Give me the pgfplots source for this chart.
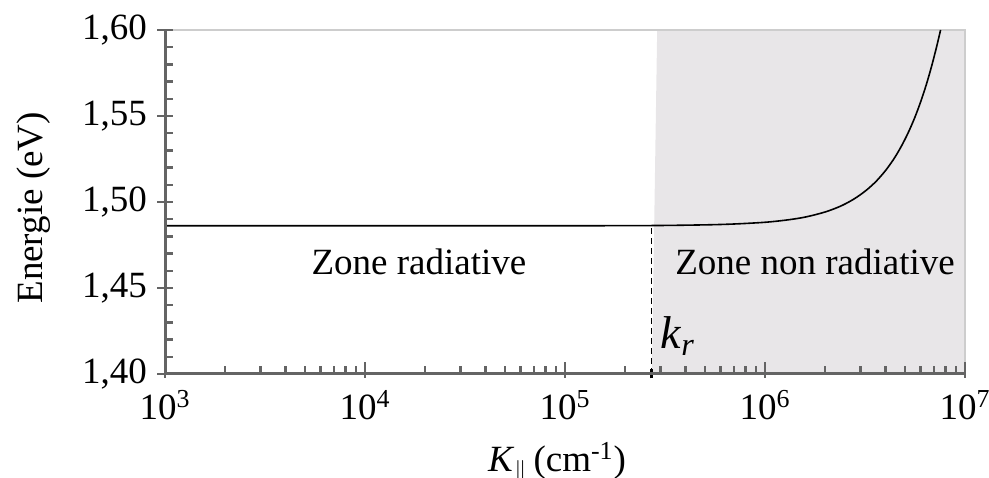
\documentclass[border=0pt]{standalone}
\usepackage{pgfplots}
\pgfplotsset{compat=1.18}
\usepackage{fontspec}
\setmainfont{Liberation Serif}
\definecolor{axgray}{RGB}{100,100,100}
\definecolor{lightax}{RGB}{205,205,205}
\definecolor{zonefill}{RGB}{232,230,232}
\newcommand{\bigf}{\fontsize{18.5}{21}\selectfont}
\begin{document}
\begin{tikzpicture}
\begin{axis}[
  scale only axis, width=400pt, height=172pt,
  xmode=log, xmin=1e3, xmax=1e7, ymin=1.40, ymax=1.60,
  axis lines*=left, axis on top, clip=false,
  axis line style={axgray, line width=1.5pt},
  tick align=inside, major tick length=8pt, minor tick length=4pt,
  tick style={axgray, line width=1.2pt},
  major y tick style={xshift=-4pt},
  major x tick style={yshift=-2pt},
  xtick={1e3,1e4,1e5,1e6,1e7},
  xticklabels={10\textsuperscript{3},10\textsuperscript{4},10\textsuperscript{5},10\textsuperscript{6},10\textsuperscript{7}},
  ytick={1.40,1.45,1.50,1.55,1.60},
  minor y tick num=4,
  /pgf/number format/use comma, /pgf/number format/fixed, /pgf/number format/fixed zerofill, /pgf/number format/precision=2, /pgf/number format/assume math mode=true,
  yticklabel style={xshift=-5.5pt},
  xticklabel style={yshift=-4.5pt},
  ticklabel style={font=\bigf},
  every axis x label/.style={at={([yshift=-49pt]axis description cs:0.49,0)}, anchor=base, font=\bigf},
  every axis y label/.style={at={([xshift=-61.5pt]axis description cs:0,0.483)}, rotate=90, anchor=base, font=\bigf},
  xlabel={\textit{K}$_{\parallel}$\,(cm\textsuperscript{-1})},
  ylabel={Energie (eV)},
]
\coordinate (sw) at (rel axis cs:0,0);
\coordinate (ne) at (rel axis cs:1,1);
\addplot[fill=zonefill, draw=none] coordinates {(2.72e5,1.40) (2.89e5,1.60) (1e7,1.60) (1e7,1.40)} -- cycle;
\draw[lightax, line width=0.8pt] (rel axis cs:0,1) -- (rel axis cs:1,1) -- (rel axis cs:1,0);
\addplot[black, line width=0.5pt, densely dashed] coordinates {(2.72e5,1.40) (2.72e5,1.4862)};
\addplot[black, line width=1.5pt] coordinates {(2.72e5,1.3975) (2.72e5,1.403)};
\addplot[black, line width=0.8pt, smooth] coordinates {
(1e3,1.4862) (1e5,1.4862) (2.72e5,1.4863) (5e5,1.4867) (7e5,1.4872) (1e6,1.4882)
(1.3e6,1.4896) (1.6e6,1.4913) (2e6,1.4942) (2.4e6,1.4977) (2.8e6,1.5019)
(3.2e6,1.5067) (3.6e6,1.5121) (4e6,1.5182) (4.4e6,1.5249) (4.8e6,1.5323)
(5.2e6,1.5403) (5.6e6,1.5489) (6e6,1.5582) (6.4e6,1.5681) (6.8e6,1.5787)
(7.2e6,1.5899) (7.55e6,1.6000)};
\node[anchor=base, font=\bigf] at (axis cs:1.86e4,1.4576) {Zone radiative};
\node[anchor=base, font=\bigf] at (axis cs:1.78e6,1.4576) {Zone non radiative};
\node[anchor=base west, font=\fontsize{23}{25}\selectfont, inner sep=0pt] at (axis cs:2.985e5,1.4151) {\textit{k}\textsubscript{\textit{r}}};
\end{axis}
\pgfresetboundingbox
\path[use as bounding box] ([xshift=-82.5pt,yshift=-52pt]sw) rectangle ([xshift=12pt,yshift=15pt]ne);
\end{tikzpicture}
\end{document}
